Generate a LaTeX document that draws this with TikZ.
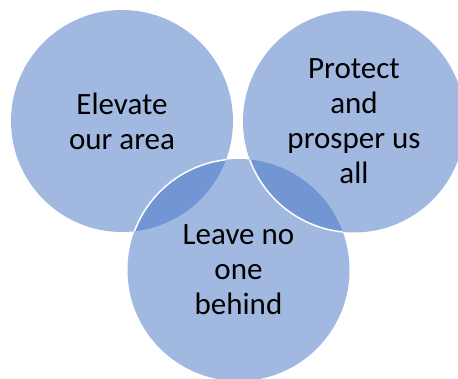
\documentclass[tikz,border=0pt]{standalone}
\usepackage{fontspec}
\setmainfont{Carlito}
\definecolor{vennblue}{HTML}{4472C4}

\begin{document}
\begin{tikzpicture}[x=1pt, y=-1pt,
        venn/.style={circle, minimum size=222pt, inner sep=0pt, fill=vennblue, fill opacity=0.5, text opacity=1, align=center, font=\fontsize{31}{35}\selectfont}]
        \useasboundingbox (0,0) rectangle (458,379);

        \node[venn] (elevate) at (122,121) {Elevate\\our area};
        \node[venn] (behind) at (238.5,270) {Leave no\\one\\behind};
        \node[venn] (protect) at (354,121.5) {Protect\\and\\prosper us\\all};

        \begin{scope}
            \clip (elevate.center) circle (111);
            \draw[white, line width=1.5pt] (behind.center) circle (111);
        \end{scope}
        \begin{scope}
            \clip (behind.center) circle (111);
            \draw[white, line width=1.5pt] (protect.center) circle (111);
        \end{scope}
    \end{tikzpicture}
\end{document}
